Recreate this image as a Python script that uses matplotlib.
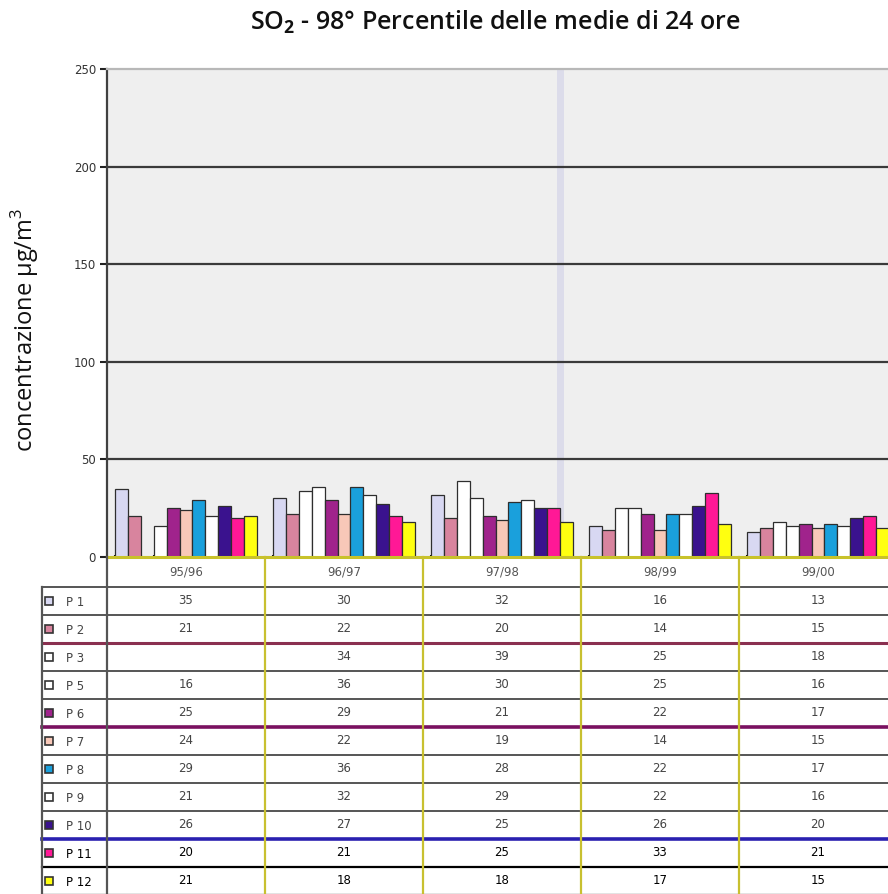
import numpy as np
import matplotlib
matplotlib.use("Agg")
import matplotlib.pyplot as plt

plt.rcParams['font.family'] = ['Open Sans', 'DejaVu Sans']
plt.rcParams['mathtext.fontset'] = 'custom'
plt.rcParams['mathtext.rm'] = 'Open Sans'
plt.rcParams['mathtext.bf'] = 'Open Sans:bold'

# ---- data -------------------------------------------------------------
years = ["95/96", "96/97", "97/98", "98/99", "99/00"]
stations = ["P 1", "P 2", "P 3", "P 5", "P 6", "P 7", "P 8", "P 9", "P 10", "P 11", "P 12"]
nan = np.nan
p1 = [35, 30, 32, 16, 13]
p2 = [21, 22, 20, 14, 15]
p3 = [nan, 34, 39, 25, 18]
p5 = [16, 36, 30, 25, 16]
p6 = [25, 29, 21, 22, 17]
p7 = [24, 22, 19, 14, 15]
p8 = [29, 36, 28, 22, 17]
p9 = [21, 32, 29, 22, 16]
p10 = [26, 27, 25, 26, 20]
p11 = [20, 21, 25, 33, 21]
p12 = [21, 18, 18, 17, 15]
series = [p1, p2, p3, p5, p6, p7, p8, p9, p10, p11, p12]
yticks = [0, 50, 100, 150, 200, 250]

colors = ["#D8D8F2", "#D8849E", "#FFFFFF", "#FFFFFF", "#A0238C", "#F8C8B8",
          "#1AA0DC", "#FFFFFF", "#3A128E", "#FF1896", "#FFFF10"]

# ---- figure / chart area ---------------------------------------------
W, H = 888, 894
fig = plt.figure(figsize=(W / 100, H / 100), dpi=100)
fig.patch.set_facecolor("white")

ax = fig.add_axes([107 / W, (H - 557) / H, 790 / W, 488 / H])
ax.set_facecolor("#EFEFEF")
ax.set_xlim(-0.5, len(years) - 0.5)
ax.set_ylim(yticks[0], yticks[-1])

x = np.arange(len(years))
n = len(series)
bw = 0.9 / n
edges = []
for j, (vals, c) in enumerate(zip(series, colors)):
    off = (j - (n - 1) / 2) * bw
    ax.bar(x + off, vals, bw, color=c, edgecolor="#2E2E2E", linewidth=0.9, zorder=3)
    edges.extend(list(x + off - bw / 2))

# faint vertical streak in the plot background
ax.axvline(2.37, color="#DCDCEA", lw=5, zorder=0.5)

for v in yticks[1:-1]:
    ax.axhline(v, color="#3A3A3A", lw=1.6, zorder=1)

ax.set_yticks(yticks)
ax.set_yticklabels([str(v) for v in yticks], fontsize=8.5, color="#333333",
                   family="DejaVu Sans")
ax.tick_params(axis="y", direction="out", length=5, width=1.5, color="#222222", pad=3)
ax.set_xticks(edges, minor=True)
ax.set_xticks([])
ax.tick_params(axis="x", which="minor", direction="inout", length=3, width=1.5,
               color="#111111")

ax.spines["left"].set_color("#404040")
ax.spines["left"].set_linewidth(1.6)
ax.spines["bottom"].set_color("#C8C22A")
ax.spines["bottom"].set_linewidth(2.2)
ax.spines["bottom"].set_zorder(4)
ax.spines["top"].set_color("#B8B8B8")
ax.spines["top"].set_linewidth(1.6)
ax.spines["right"].set_visible(False)

fig.text(495 / W, 1 - 22 / H, r"SO$_\mathbf{2}$ - 98° Percentile delle medie di 24 ore",
         ha="center", va="center", fontsize=18, fontweight="semibold", color="#111111")
fig.text(25 / W, 1 - 330 / H, "concentrazione µg/m$^3$", rotation=90,
         ha="center", va="center", fontsize=17, color="#111111")

# ---- data table under the chart --------------------------------------
tax = fig.add_axes([107 / W, 0, 790 / W, (H - 557) / H])
tax.set_xlim(-0.5, len(years) - 0.5)
tax.set_ylim(H - 557, 0)
tax.axis("off")

px = 1 / 158.0          # one pixel in category units
head_h, row_h = 30, 28
left_x = -0.5 - 65 * px
right_x = len(years) - 0.5 + 0.2

for i, yr in enumerate(years):
    tax.text(i, head_h / 2, yr, ha="center", va="center", fontsize=8.5,
             color="#555555", family="DejaVu Sans")

line_styles = {2: ("#8A3050", 2.2), 5: ("#7A1060", 2.6), 9: ("#2A20B0", 2.6),
               10: ("#000000", 1.6), 11: ("#000000", 1.6)}
for k in range(n + 1):
    y = head_h + row_h * k
    c, lw = line_styles.get(k, ("#555555", 1.4))
    tax.plot([left_x, right_x], [y, y], color=c, lw=lw, clip_on=False, zorder=2)

for b in np.arange(0.5, len(years) - 0.5, 1.0):
    tax.plot([b, b], [0, H - 557], color="#C8C030", lw=1.6, clip_on=False, zorder=3)
tax.plot([-0.5, -0.5], [0, H - 557], color="#555555", lw=1.6, clip_on=False, zorder=3)
tax.plot([left_x, left_x], [head_h, H - 557], color="#555555", lw=1.6,
         clip_on=False, zorder=3)

for j, (name, vals, c) in enumerate(zip(stations, series, colors)):
    yc = head_h + row_h * j + row_h / 2
    dark = j >= 9
    tcol = "#000000" if dark else "#444444"
    tax.plot([-0.5 - 58 * px], [yc], marker="s", markersize=5.5,
             markerfacecolor=c, markeredgecolor="#333333", markeredgewidth=1.2,
             clip_on=False, zorder=4)
    tax.text(-0.5 - 41 * px, yc + 1, name, ha="left", va="center", fontsize=8.5,
             color=tcol, family="DejaVu Sans")
    for i, v in enumerate(vals):
        if not np.isnan(v):
            tax.text(i, yc, f"{v:g}", ha="center", va="center", fontsize=8.5,
                     color=tcol, family="DejaVu Sans")

fig.savefig("out.png", dpi=100)
